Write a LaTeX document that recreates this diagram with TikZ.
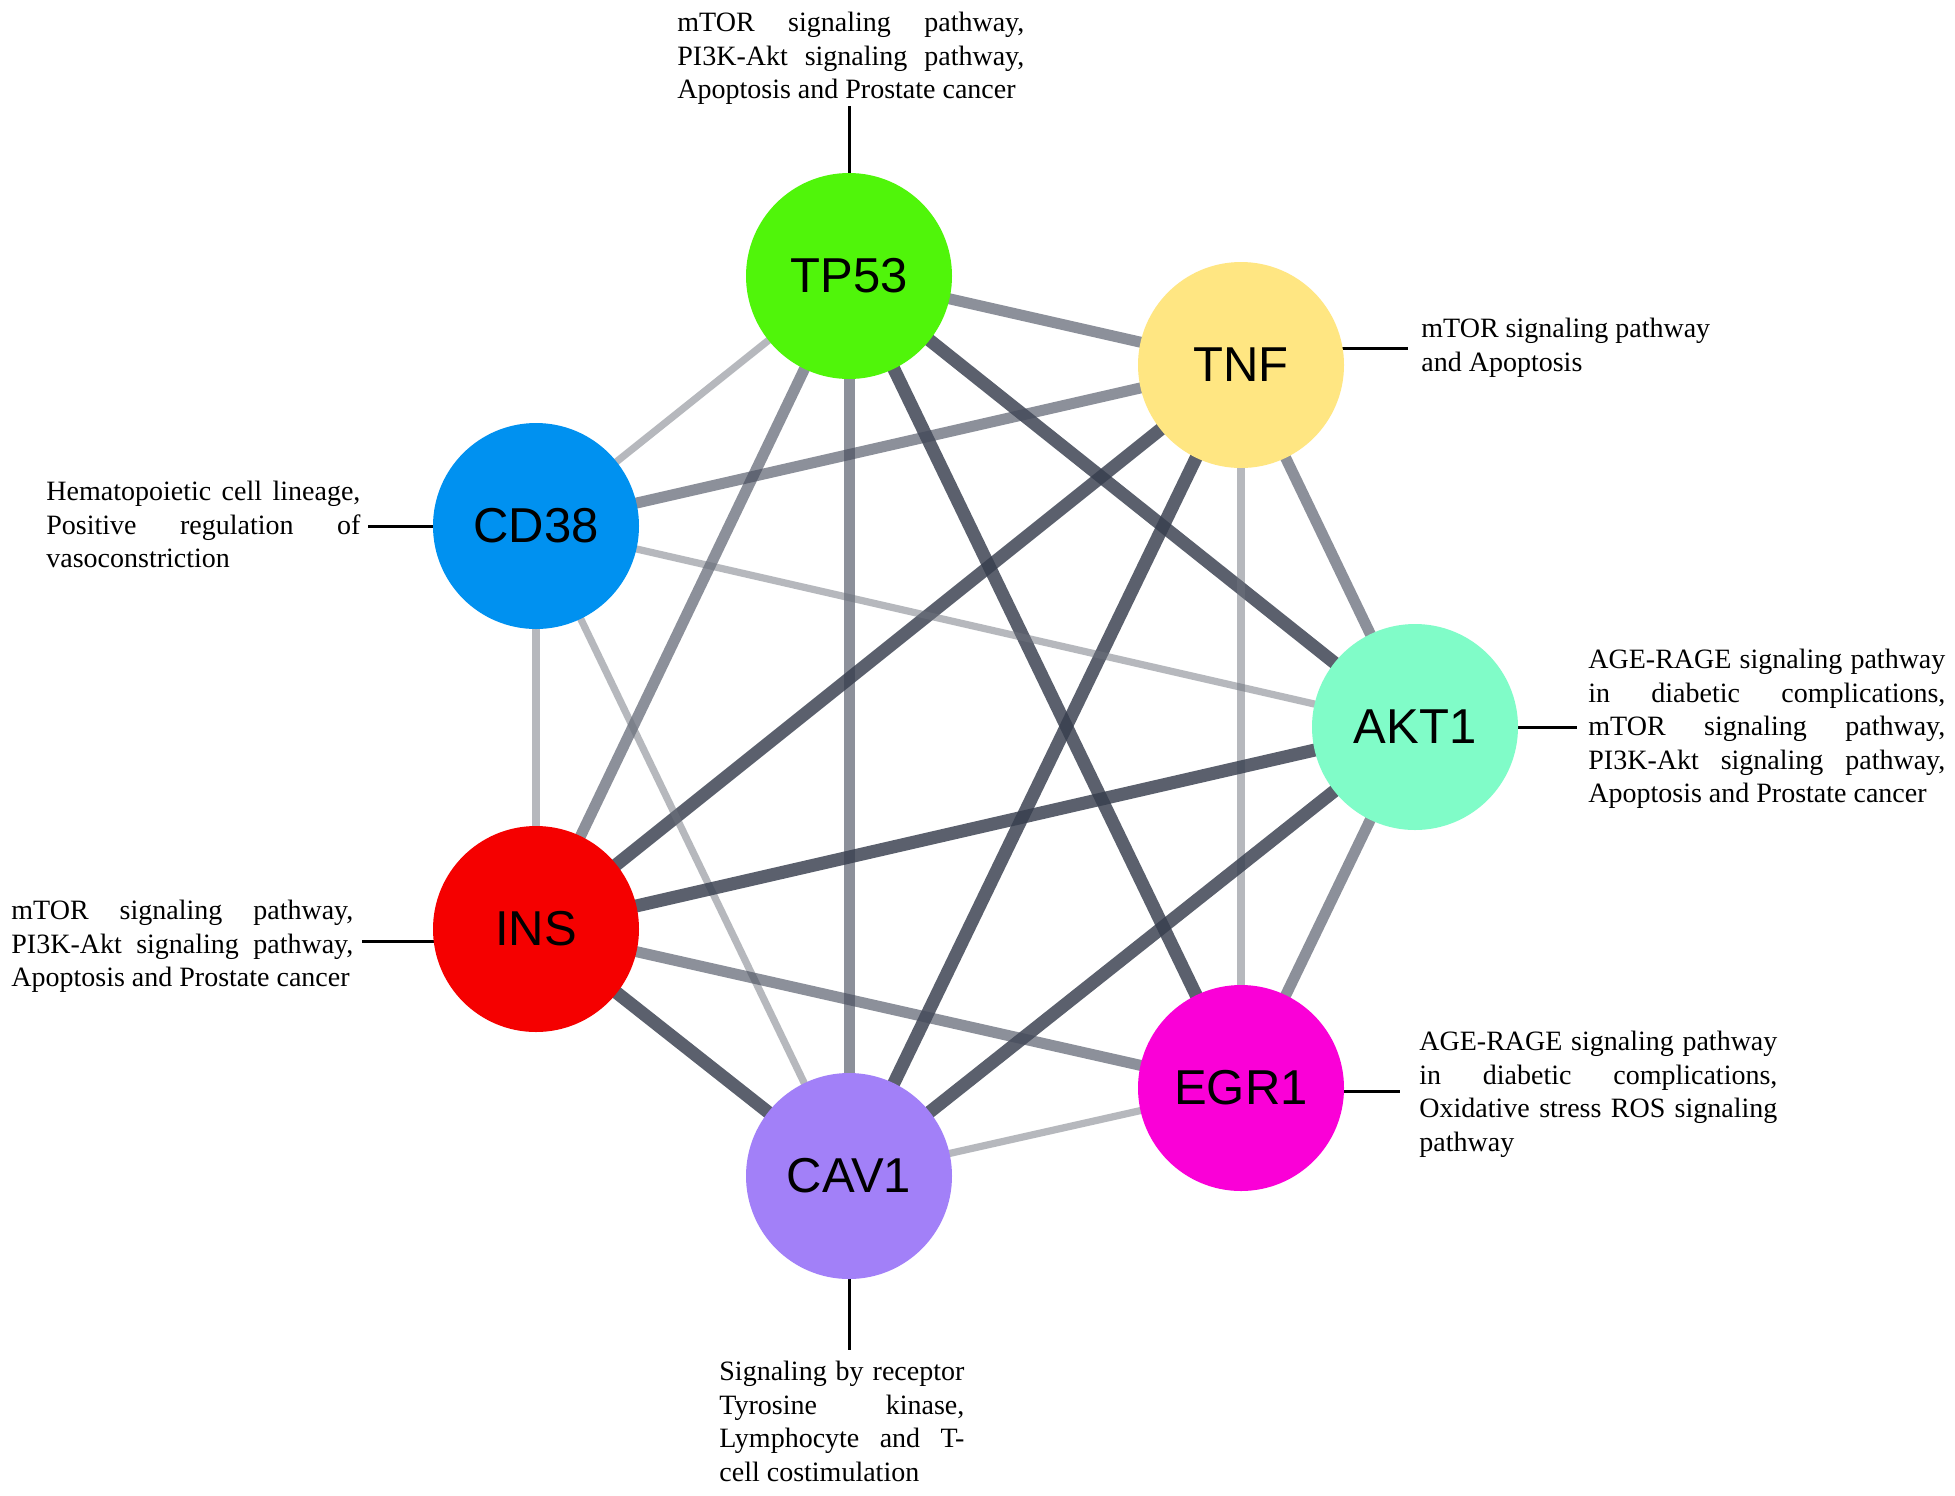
\documentclass[tikz,border=0pt]{standalone}
\usepackage{fontspec}
\setmainfont{Liberation Serif}
\newfontfamily\genefont{Liberation Sans}
\usetikzlibrary{calc}
\pgfdeclarelayer{paper}
\pgfdeclarelayer{background}
\pgfsetlayers{paper,background,main}
\definecolor{cTP}{RGB}{80,245,10}
\definecolor{cTNF}{RGB}{255,230,130}
\definecolor{cCD}{RGB}{0,145,240}
\definecolor{cAKT}{RGB}{128,252,200}
\definecolor{cINS}{RGB}{245,0,0}
\definecolor{cEGR}{RGB}{250,0,215}
\definecolor{cCAV}{RGB}{162,128,248}
\definecolor{edark}{RGB}{55,62,78}
\definecolor{emidc}{RGB}{70,76,92}
\definecolor{elight}{RGB}{110,115,125}
\newcommand{\jline}[2]{\leavevmode\hbox to #1{\spaceskip=0.25em plus 1fil\relax #2}}
\tikzset{
  gene/.style={circle, minimum size=103pt, inner sep=0pt, draw=none,
    font=\genefont\fontsize{24.5}{28}\selectfont},
  ann/.style={inner sep=0pt, anchor=north west, align=left,
    font=\fontsize{14}{16.75}\selectfont},
  ehi/.style={line width=6.5pt, draw=edark, draw opacity=0.82},
  emd/.style={line width=5.5pt, draw=emidc, draw opacity=0.62},
  elo/.style={line width=3.6pt, draw=elight, draw opacity=0.5},
  lead/.style={line width=1.5pt, draw=black}
}
\begin{document}
\begin{tikzpicture}[x=0.5pt,y=-0.5pt]
\begin{pgfonlayer}{paper}
\fill[white] (0,0) rectangle (1955,1495);
\end{pgfonlayer}
\useasboundingbox (0,0) rectangle (1955,1495);

% gene nodes
\node[gene, fill=cTP]  (tp53) at (849,276)  {TP53};
\node[gene, fill=cTNF] (tnf)  at (1241,365) {TNF};
\node[gene, fill=cCD]  (cd38) at (536,526)  {CD38};
\node[gene, fill=cAKT] (akt1) at (1415,727) {AKT1};
\node[gene, fill=cINS] (ins)  at (536,929)  {INS};
\node[gene, fill=cEGR] (egr1) at (1241,1088) {EGR1};
\node[gene, fill=cCAV] (cav1) at (849,1176) {CAV1};

% annotation texts
\node[ann] (lTP) at (677,12) {%
\jline{173.5pt}{mTOR signaling pathway,}\\
\jline{173.5pt}{PI3K-Akt signaling pathway,}\\
Apoptosis and Prostate cancer};
\node[ann] (lTNF) at (1421,318) {mTOR signaling pathway\\ and Apoptosis};
\node[ann] (lCD) at (46,481) {%
\jline{157pt}{Hematopoietic cell lineage,}\\
\jline{157pt}{Positive regulation of}\\
vasoconstriction};
\node[ann] (lAKT) at (1588,649) {%
\jline{178.5pt}{AGE-RAGE signaling pathway}\\
\jline{178.5pt}{in diabetic complications,}\\
\jline{178.5pt}{mTOR signaling pathway,}\\
\jline{178.5pt}{PI3K-Akt signaling pathway,}\\
Apoptosis and Prostate cancer};
\node[ann] (lINS) at (11,900) {%
\jline{171pt}{mTOR signaling pathway,}\\
\jline{171pt}{PI3K-Akt signaling pathway,}\\
Apoptosis and Prostate cancer};
\node[ann] (lEGR) at (1419,1031) {%
\jline{179pt}{AGE-RAGE signaling pathway}\\
\jline{179pt}{in diabetic complications,}\\
\jline{179pt}{Oxidative stress ROS signaling}\\
pathway};
\node[ann] (lCAV) at (719,1361) {%
\jline{122.5pt}{Signaling by receptor}\\
\jline{122.5pt}{Tyrosine kinase,}\\
\jline{122.5pt}{Lymphocyte and T-}\\
cell costimulation};

% leader end points
\coordinate (pTP)  at (849,106);
\coordinate (pTNF) at (1408,348);
\coordinate (pCD)  at (368,526);
\coordinate (pAKT) at (1577,727);
\coordinate (pINS) at (362,941);
\coordinate (pEGR) at (1400,1091);
\coordinate (pCAV) at (849,1350);

\begin{pgfonlayer}{background}
% edges
\draw[emd] (tp53.center) -- (tnf.center);
\draw[elo] (tp53.center) -- (cd38.center);
\draw[emd] (tp53.center) -- (ins.center);
\draw[emd] (tp53.center) -- (cav1.center);
\draw[ehi] (tp53.center) -- (egr1.center);
\draw[ehi] (tp53.center) -- (akt1.center);
\draw[emd] (tnf.center) -- (cd38.center);
\draw[ehi] (tnf.center) -- (ins.center);
\draw[ehi] (tnf.center) -- (cav1.center);
\draw[elo] (tnf.center) -- (egr1.center);
\draw[emd] (tnf.center) -- (akt1.center);
\draw[elo] (cd38.center) -- (akt1.center);
\draw[elo] (cd38.center) -- (ins.center);
\draw[elo] (cd38.center) -- (cav1.center);
\draw[ehi] (akt1.center) -- (ins.center);
\draw[ehi] (akt1.center) -- (cav1.center);
\draw[emd] (akt1.center) -- (egr1.center);
\draw[emd] (ins.center) -- (egr1.center);
\draw[ehi] (ins.center) -- (cav1.center);
\draw[elo] (cav1.center) -- (egr1.center);
% leaders
\draw[lead] (tp53.center) -- (pTP);
\draw[lead] (tnf.center |- pTNF) -- (pTNF);
\draw[lead] (cd38.center) -- (pCD);
\draw[lead] (akt1.center) -- (pAKT);
\draw[lead] (ins.center |- pINS) -- (pINS);
\draw[lead] (egr1.center |- pEGR) -- (pEGR);
\draw[lead] (cav1.center) -- (pCAV);
\end{pgfonlayer}
\end{tikzpicture}
\end{document}
